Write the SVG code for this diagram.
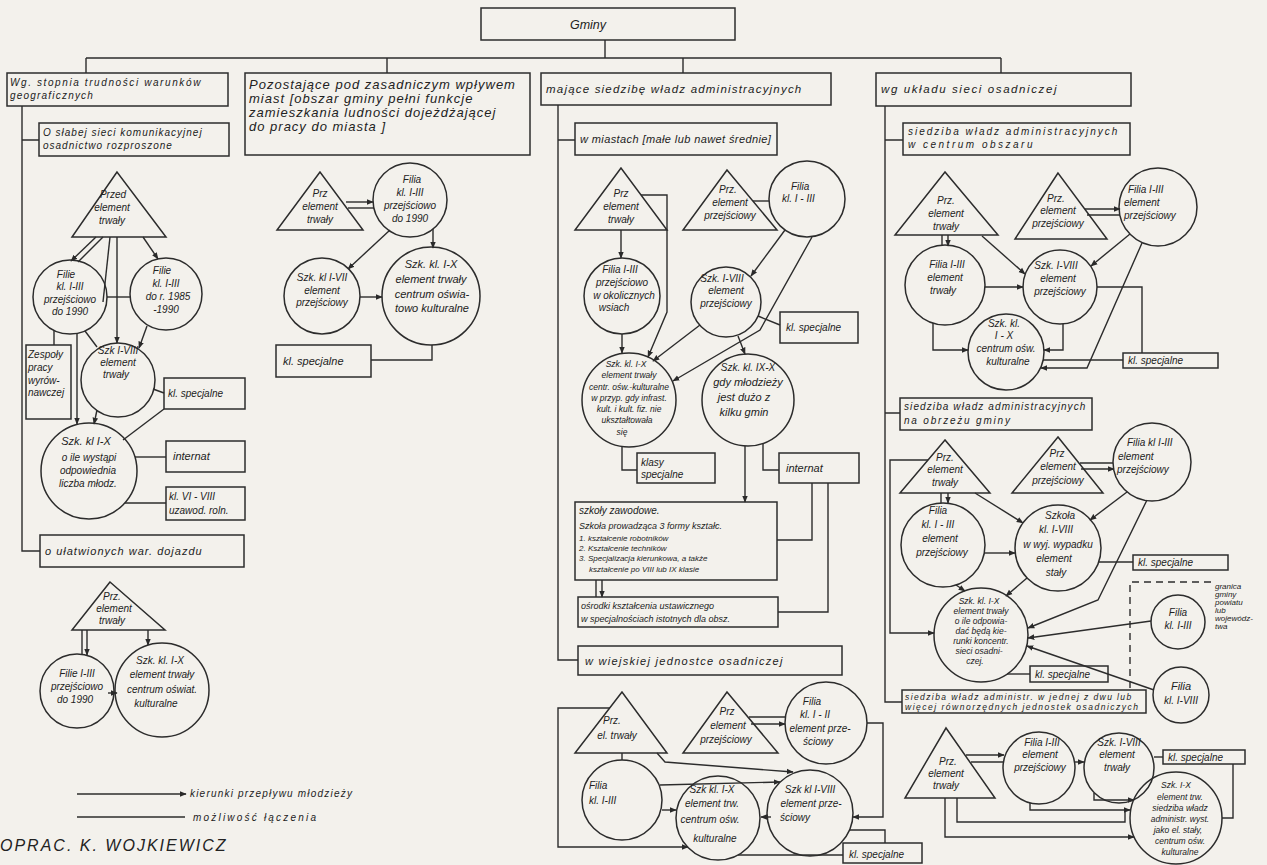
<svg xmlns="http://www.w3.org/2000/svg" width="1267" height="865" viewBox="0 0 1267 865">
<defs>
<marker id="ah" viewBox="0 0 10 10" refX="9" refY="5" markerWidth="7" markerHeight="7" markerUnits="userSpaceOnUse" orient="auto"><path d="M0,1 L10,5 L0,9 z" fill="#2a2a2a"/></marker>
<style>
.nd{fill:none;stroke:#2c2c2c;stroke-width:1.5}
.ln{fill:none;stroke:#2c2c2c;stroke-width:1.4}
.ar{marker-end:url(#ah)}
.dash{stroke-dasharray:7 5}
text{font-family:"Liberation Sans",Arial,sans-serif;font-style:italic;fill:#222;font-size:10px}
.m{text-anchor:middle}
.s{font-size:8.5px}
.l{font-size:11px}
.xl{font-size:12.5px}
</style>
</defs>
<rect x="0" y="0" width="1267" height="865" fill="#f3f1ec"/>

<g id="connectors">
<path class="ln" d="M605,40 V58 M86,58 H1001 M86,58 V73 M387,58 V73 M683,58 V73 M1001,58 V73"/>
<path class="ln" d="M22,106 V551 H40 M22,140 H39"/>
<path class="ln ar" d="M96,237 L71,261"/>
<path class="ln" d="M103,237 L78,262"/>
<path class="ln ar" d="M143,237 L158,259"/>
<path class="ln ar" d="M117,237 V343"/>
<path class="ln" d="M110,237 L103,302"/>
<path class="ln ar" d="M97,410 L94,424"/>
<path class="ln" d="M85,331 L97,347"/>
<path class="ln ar" d="M77,334 V424"/>
<path class="ln" d="M54,330 V345"/>
<path class="ln" d="M107,297 H131"/>
<path class="ln ar" d="M147,326 L139,348"/>
<path class="ln" d="M153,389 L164,393"/>
<path class="ln" d="M164,409 L123,440"/>
<path class="ln" d="M135,457 H166"/>
<path class="ln" d="M125,503 H166"/>
<path class="ln" d="M82,630 V655"/>
<path class="ln ar" d="M87,630 V655"/>
<path class="ln ar" d="M148,630 V645"/>
<path class="ln ar" d="M108,693 H117"/>
<path class="ln ar" d="M77,794 H186"/>
<path class="ln" d="M77,817 H185"/>
<path class="ln ar" d="M346,202 H373"/>
<path class="ln" d="M348,208 H374"/>
<path class="ln ar" d="M390,230 L348,269"/>
<path class="ln ar" d="M433,229 V248"/>
<path class="ln ar" d="M360,297 H382"/>
<path class="ln" d="M432,345 V360 H371"/>
<path class="ln" d="M558,105 V660 H578 M558,140 H575"/>
<path class="ln ar" d="M621,230 V258"/>
<path class="ln ar" d="M641,195 H667 V312 L648,357"/>
<path class="ln ar" d="M622,334 V353"/>
<path class="ln ar" d="M700,325 L653,361"/>
<path class="ln ar" d="M812,237 L760,330 L673,381"/>
<path class="ln ar" d="M785,230 L751,276"/>
<path class="ln" d="M753,201 H769"/>
<path class="ln" d="M758,316 L780,325"/>
<path class="ln ar" d="M738,336 L745,354"/>
<path class="ln" d="M622,447 V470 H637"/>
<path class="ln" d="M763,443 V470 H779"/>
<path class="ln ar" d="M745,446 V502"/>
<path class="ln" d="M812,483 V540 H777 M828,483 V612 H778"/>
<path class="ln" d="M596,580 V597"/>
<path class="ln ar" d="M602,580 V597"/>
<path class="ln" d="M622,753 V760"/>
<path class="ln ar" d="M610,708 H558 V847 H688"/>
<path class="ln" d="M749,717 H786"/>
<path class="ln ar" d="M751,724 H785"/>
<path class="ln ar" d="M867,723 H883 V817 H853"/>
<path class="ln ar" d="M771,817 H761"/>
<path class="ln ar" d="M662,810 H676"/>
<path class="ln ar" d="M657,753 L665,762 L793,772"/>
<path class="ln ar" d="M660,785 L780,782"/>
<path class="ln" d="M849,830 H885 V843"/>
<path class="ln" d="M738,855 H843"/>
<path class="ln" d="M885,106 V702 H902 M885,140 H903 M885,413 H900"/>
<path class="ln" d="M942,235 V245"/>
<path class="ln ar" d="M948,235 V246"/>
<path class="ln ar" d="M982,236 L1025,274"/>
<path class="ln ar" d="M1085,209 H1120"/>
<path class="ln" d="M1087,215 H1120"/>
<path class="ln ar" d="M1130,234 L1091,266"/>
<path class="ln ar" d="M985,287 H1023"/>
<path class="ln ar" d="M1142,243 L1087,368 H1041"/>
<path class="ln" d="M1097,287 H1142 V353"/>
<path class="ln ar" d="M1063,324 V350 H1044"/>
<path class="ln ar" d="M933,323 V350 H968"/>
<path class="ln" d="M1043,360 H1123"/>
<path class="ln ar" d="M928,460 H890 V633 H934"/>
<path class="ln" d="M941,493 V503"/>
<path class="ln ar" d="M948,493 V503"/>
<path class="ln ar" d="M975,493 L1023,523"/>
<path class="ln" d="M1080,463 H1113"/>
<path class="ln ar" d="M1081,469 H1114"/>
<path class="ln ar" d="M1127,492 L1090,520"/>
<path class="ln ar" d="M984,553 H1015"/>
<path class="ln" d="M1099,562 H1133"/>
<path class="ln ar" d="M1147,500 L1098,600 L1028,628"/>
<path class="ln ar" d="M1151,621 L1028,638"/>
<path class="ln ar" d="M1154,690 L1027,646"/>
<path class="ln ar" d="M956,585 L965,591"/>
<path class="ln ar" d="M1027,578 L1006,596"/>
<path class="ln" d="M1007,674 H1030"/>
<path class="ln dash" d="M1130,688 V582 H1213"/>
<path class="ln ar" d="M966,755 H1004"/>
<path class="ln" d="M971,762 H1004"/>
<path class="ln ar" d="M1075,762 H1084"/>
<path class="ln" d="M1154,757 H1163"/>
<path class="ln ar" d="M1030,803 V810 H1130"/>
<path class="ln ar" d="M1094,793 V800 H1134"/>
<path class="ln" d="M957,798 V822 H1125 V810"/>
<path class="ln ar" d="M945,798 V837 H1134"/>
<path class="ln" d="M1233,764 V818 H1222"/>
</g>

<g id="gminy"><rect class="nd" x="481" y="8" width="254" height="32"/><text class="xl m" x="588" y="29">Gminy</text></g>

<g id="box1"><rect class="nd" x="7" y="73" width="221" height="33"/><text x="10" y="86" style="letter-spacing:1.6px">Wg. stopnia trudności warunków</text><text x="10" y="99" style="letter-spacing:1.2px">geograficznych</text></g>
<g id="box2"><rect class="nd" x="245" y="73" width="285" height="82"/><text style="font-size:13px;letter-spacing:1px" x="249" y="89">Pozostające pod zasadniczym wpływem</text><text style="font-size:13px;letter-spacing:1px" x="249" y="103">miast [obszar gminy pełni funkcje</text><text style="font-size:13px;letter-spacing:1px" x="249" y="117">zamieszkania ludności dojeżdżającej</text><text style="font-size:13px;letter-spacing:1px" x="249" y="131">do pracy do miasta ]</text></g>
<g id="box3"><rect class="nd" x="541" y="73" width="290" height="32"/><text style="font-size:11.5px;letter-spacing:1.2px" x="546" y="93">mające siedzibę władz administracyjnych</text></g>
<g id="box4"><rect class="nd" x="876" y="73" width="255" height="33"/><text style="font-size:11.5px;letter-spacing:1.6px" x="881" y="93">wg układu sieci osadniczej</text></g>

<g id="s1-slabej"><rect class="nd" x="39" y="123" width="190" height="33"/><text x="43" y="136" style="letter-spacing:1px">O słabej sieci komunikacyjnej</text><text x="43" y="149" style="letter-spacing:1px">osadnictwo rozproszone</text></g>
<g id="s1-ulatw"><rect class="nd" x="40" y="535" width="204" height="32"/><text class="l" x="45" y="555" style="letter-spacing:1px">o ułatwionych war. dojazdu</text></g>
<g id="s1-przed"><polygon class="nd" points="117,172 72,237 166,237"/><text class="m" x="113" y="198">Przed</text><text class="m" x="112" y="211">element</text><text class="m" x="112" y="224">trwały</text></g>
<g id="s1-filie1"><circle class="nd" cx="70" cy="297" r="37"/><text class="m" x="66" y="278">Filie</text><text class="m" x="70" y="290">kl. I-III</text><text class="m" x="70" y="303">przejściowo</text><text class="m" x="70" y="315">do 1990</text></g>
<g id="s1-filie2"><circle class="nd" cx="166" cy="294" r="36"/><text class="m" x="162" y="274">Filie</text><text class="m" x="166" y="287">kl. I-III</text><text class="m" x="168" y="300">do r. 1985</text><text class="m" x="166" y="313">-1990</text></g>
<g id="s1-szk8"><circle class="nd" cx="118" cy="380" r="37"/><text class="m" x="118" y="354">Szk I-VIII</text><text class="m" x="118" y="366">element</text><text class="m" x="116" y="378">trwały</text></g>
<g id="s1-zesp"><rect class="nd" x="26" y="345" width="45" height="74"/><text x="28" y="358">Zespoły</text><text x="28" y="371">pracy</text><text x="28" y="384">wyrów-</text><text x="28" y="396">nawczej</text></g>
<g id="s1-spec"><rect class="nd" x="164" y="378" width="81" height="31"/><text x="168" y="397">kl. specjalne</text></g>
<g id="s1-szk10"><circle class="nd" cx="89" cy="471" r="48"/><text class="m l" x="86" y="445">Szk. kl I-X</text><text class="m" x="89" y="461">o ile wystąpi</text><text class="m" x="88" y="474">odpowiednia</text><text class="m" x="88" y="487">liczba młodz.</text></g>
<g id="s1-intern"><rect class="nd" x="166" y="441" width="79" height="31"/><text class="l" x="173" y="460">internat</text></g>
<g id="s1-kl6"><rect class="nd" x="166" y="487" width="79" height="33"/><text x="169" y="500">kl. VI - VIII</text><text x="169" y="514">uzawod. roln.</text></g>

<g id="s1-prz2"><polygon class="nd" points="110,582 72,630 165,630"/><text class="m" x="112" y="600">Prz.</text><text class="m" x="114" y="612">element</text><text class="m" x="112" y="624">trwały</text></g>
<g id="s1-filie3"><circle class="nd" cx="77" cy="691" r="37"/><text class="m" x="77" y="677">Filie I-III</text><text class="m" x="77" y="690">przejściowo</text><text class="m" x="75" y="703">do 1990</text></g>
<g id="s1-szk10b"><circle class="nd" cx="162" cy="690" r="47"/><text class="m" x="160" y="664">Szk. kl. I-X</text><text class="m" x="162" y="678">element trwały</text><text class="m" x="162" y="693">centrum oświat.</text><text class="m" x="156" y="707">kulturalne</text></g>

<g id="legend"><text x="190" y="797" style="letter-spacing:1.2px">kierunki przepływu młodzieży</text><text x="193" y="821" style="letter-spacing:2.2px">możliwość łączenia</text><text x="0" y="851" style="font-size:16px;letter-spacing:2px">OPRAC. K. WOJKIEWICZ</text></g>

<g id="s2-prz"><polygon class="nd" points="320,172 277,230 363,230"/><text class="m" x="320" y="197">Prz</text><text class="m" x="320" y="210">element</text><text class="m" x="320" y="223">trwały</text></g>
<g id="s2-filia"><circle class="nd" cx="410" cy="200" r="37"/><text class="m" x="412" y="183">Filia</text><text class="m" x="410" y="196">kl. I-III</text><text class="m" x="410" y="209">przejściowo</text><text class="m" x="410" y="222">do 1990</text></g>
<g id="s2-szk7"><circle class="nd" cx="322" cy="296" r="38"/><text class="m" x="322" y="281">Szk. kl I-VII</text><text class="m" x="322" y="294">element</text><text class="m" x="322" y="306">przejściowy</text></g>
<g id="s2-szk10"><circle class="nd" cx="431" cy="296" r="49"/><text class="m l" x="431" y="268">Szk. kl. I-X</text><text class="m l" x="431" y="283">element trwały</text><text class="m l" x="432" y="298">centrum oświa-</text><text class="m l" x="432" y="312">towo kulturalne</text></g>
<g id="s2-spec"><rect class="nd" x="276" y="345" width="95" height="32"/><text class="l" x="283" y="365">kl. specjalne</text></g>

<g id="s3-miast"><rect class="nd" x="575" y="123" width="202" height="32"/><text class="l" x="580" y="143" style="letter-spacing:0.4px">w miastach [małe lub nawet średnie]</text></g>
<g id="s3-prz"><polygon class="nd" points="621,168 575,230 667,230"/><text class="m" x="621" y="197">Prz</text><text class="m" x="621" y="210">element</text><text class="m" x="621" y="223">trwały</text></g>
<g id="s3-filia"><circle class="nd" cx="622" cy="296" r="38"/><text class="m" x="620" y="273">Filia I-III</text><text class="m" x="622" y="286">przejściowo</text><text class="m" x="624" y="299">w okolicznych</text><text class="m" x="614" y="311">wsiach</text></g>
<g id="s3-szk10"><circle class="nd" cx="629" cy="400" r="47"/><text class="m s" x="626" y="367">Szk. kl. I-X</text><text class="m s" x="629" y="378">element trwały</text><text class="m s" x="629" y="390">centr. ośw.-kulturalne</text><text class="m s" x="629" y="401">w przyp. gdy infrast.</text><text class="m s" x="629" y="412">kult. i kult. fiz. nie</text><text class="m s" x="627" y="423">ukształtowała</text><text class="m s" x="622" y="435">się</text></g>
<g id="s3-klasy"><rect class="nd" x="637" y="453" width="78" height="30"/><text x="641" y="466">klasy</text><text x="641" y="478">specjalne</text></g>
<g id="s3-prz2"><polygon class="nd" points="727,170 683,230 777,230"/><text class="m" x="728" y="193">Prz.</text><text class="m" x="730" y="206">element</text><text class="m" x="730" y="219">przejściowy</text></g>
<g id="s3-filia2"><circle class="nd" cx="807" cy="199" r="38"/><text x="791" y="190">Filia</text><text x="782" y="202">kl. I - III</text></g>
<g id="s3-szk8"><circle class="nd" cx="726" cy="302" r="35"/><text class="m" x="722" y="282">Szk. I-VIII</text><text class="m" x="726" y="294">element</text><text class="m" x="726" y="307">przejściowy</text></g>
<g id="s3-spec"><rect class="nd" x="780" y="312" width="78" height="31"/><text x="786" y="331">kl. specjalne</text></g>
<g id="s3-szk9"><circle class="nd" cx="748" cy="400" r="46"/><text class="m" x="748" y="371">Szk. kl. IX-X</text><text class="m l" x="748" y="386">gdy młodzieży</text><text class="m l" x="744" y="401">jest dużo z</text><text class="m l" x="744" y="416">kilku gmin</text></g>
<g id="s3-intern"><rect class="nd" x="779" y="453" width="80" height="30"/><text class="l" x="786" y="472">internat</text></g>
<g id="s3-zawod"><rect class="nd" x="575" y="502" width="202" height="78"/><text x="579" y="514">szkoły zawodowe.</text><text style="font-size:9px" x="579" y="529">Szkoła prowadząca 3 formy kształc.</text><text style="font-size:8px" x="579" y="541">1. kształcenie robotników</text><text style="font-size:8px" x="579" y="551">2. Kształcenie techników</text><text style="font-size:8px" x="579" y="561">3. Specjalizacja kierunkowa, a także</text><text style="font-size:8px" x="589" y="572">kształcenie po VIII lub IX klasie</text></g>
<g id="s3-osrod"><rect class="nd" x="578" y="597" width="200" height="30"/><text style="font-size:9px" x="581" y="609">ośrodki kształcenia ustawicznego</text><text style="font-size:9px" x="581" y="622">w specjalnościach istotnych dla obsz.</text></g>
<g id="s3-wiejsk"><rect class="nd" x="578" y="646" width="264" height="29"/><text class="l" x="585" y="665" style="letter-spacing:1.3px">w wiejskiej jednostce osadniczej</text></g>
<g id="s3-w-prz"><polygon class="nd" points="622,692 575,753 667,753"/><text class="m" x="612" y="724">Prz.</text><text class="m" x="617" y="739">el. trwały</text></g>
<g id="s3-w-filia"><circle class="nd" cx="622" cy="800" r="40"/><text x="589" y="789">Filia</text><text x="589" y="804">kl. I-III</text></g>
<g id="s3-w-prz2"><polygon class="nd" points="727,692 683,753 778,753"/><text class="m" x="727" y="715">Prz</text><text class="m" x="728" y="729">element</text><text class="m" x="726" y="743">przejściowy</text></g>
<g id="s3-w-filia2"><circle class="nd" cx="826" cy="723" r="41"/><text class="m" x="812" y="705">Filia</text><text class="m" x="815" y="718">kl. I - II</text><text class="m" x="820" y="732">element prze-</text><text class="m" x="818" y="745">ściowy</text></g>
<g id="s3-w-szk8"><circle class="nd" cx="810" cy="813" r="43"/><text class="m" x="810" y="793">Szk kl I-VIII</text><text class="m" x="811" y="807">element prze-</text><text class="m" x="795" y="821">ściowy</text></g>
<g id="s3-w-szk10"><circle class="nd" cx="718" cy="818" r="42"/><text class="m" x="712" y="793">Szk kl. I-X</text><text class="m" x="712" y="807">element trw.</text><text class="m" x="710" y="823">centrum ośw.</text><text class="m" x="715" y="842">kulturalne</text></g>
<g id="s3-w-spec"><rect class="nd" x="843" y="843" width="79" height="20"/><text x="849" y="858">kl. specjalne</text></g>

<g id="s4-centr"><rect class="nd" x="903" y="123" width="227" height="32"/><text x="908" y="135" style="letter-spacing:2px">siedziba władz administracyjnych</text><text x="908" y="148" style="letter-spacing:2.5px">w centrum obszaru</text></g>
<g id="s4-prz1"><polygon class="nd" points="945,172 895,235 998,235"/><text class="m" x="946" y="204">Prz.</text><text class="m" x="946" y="217">element</text><text class="m" x="946" y="230">trwały</text></g>
<g id="s4-prz2"><polygon class="nd" points="1058,173 1015,239 1107,239"/><text class="m" x="1056" y="202">Prz.</text><text class="m" x="1058" y="214">element</text><text class="m" x="1058" y="227">przejściowy</text></g>
<g id="s4-filia1"><circle class="nd" cx="1158" cy="207" r="39"/><text x="1128" y="193">Filia I-III</text><text x="1124" y="206">element</text><text x="1124" y="219">przejściowy</text></g>
<g id="s4-filia2"><circle class="nd" cx="945" cy="285" r="40"/><text class="m" x="947" y="268">Filia I-III</text><text class="m" x="945" y="281">element</text><text class="m" x="943" y="294">trwały</text></g>
<g id="s4-szk8"><circle class="nd" cx="1060" cy="287" r="37"/><text class="m" x="1056" y="269">Szk. I-VIII</text><text class="m" x="1058" y="282">element</text><text class="m" x="1060" y="295">przejściowy</text></g>
<g id="s4-szk10"><circle class="nd" cx="1006" cy="352" r="38"/><text class="m" x="1004" y="327">Szk. kl.</text><text class="m" x="1004" y="339">I - X</text><text class="m" x="1006" y="352">centrum ośw.</text><text class="m" x="1008" y="365">kulturalne</text></g>
<g id="s4-spec1"><rect class="nd" x="1123" y="353" width="95" height="15"/><text x="1128" y="364">kl. specjalne</text></g>
<g id="s4-obrz"><rect class="nd" x="900" y="398" width="192" height="32"/><text x="904" y="410" style="letter-spacing:1.1px">siedziba władz administracyjnych</text><text x="904" y="424" style="letter-spacing:1.8px">na obrzeżu gminy</text></g>
<g id="s4-prz3"><polygon class="nd" points="945,440 900,493 990,493"/><text class="m" x="945" y="461">Prz.</text><text class="m" x="945" y="473">element</text><text class="m" x="945" y="486">trwały</text></g>
<g id="s4-prz4"><polygon class="nd" points="1058,437 1012,493 1103,493"/><text class="m" x="1057" y="457">Prz</text><text class="m" x="1058" y="470">element</text><text class="m" x="1058" y="484">przejściowy</text></g>
<g id="s4-filia3"><circle class="nd" cx="1152" cy="462" r="39"/><text x="1127" y="446">Filia kl I-III</text><text x="1118" y="460">element</text><text x="1117" y="473">przejściowy</text></g>
<g id="s4-filia4"><circle class="nd" cx="943" cy="545" r="42"/><text class="m" x="938" y="514">Filia</text><text class="m" x="938" y="528">kl. I - III</text><text class="m" x="940" y="542">element</text><text class="m" x="942" y="556">przejściowy</text></g>
<g id="s4-szkola"><circle class="nd" cx="1058" cy="548" r="43"/><text class="m" x="1060" y="519">Szkoła</text><text class="m" x="1056" y="533">kl. I-VIII</text><text class="m" x="1058" y="548">w wyj. wypadku</text><text class="m" x="1054" y="562">element</text><text class="m" x="1056" y="576">stały</text></g>
<g id="s4-spec2"><rect class="nd" x="1133" y="555" width="95" height="15"/><text x="1138" y="566">kl. specjalne</text></g>
<g id="s4-szk10b"><circle class="nd" cx="981" cy="635" r="47"/><text class="m s" x="979" y="604">Szk. kl. I-X</text><text class="m s" x="981" y="614">element trwały</text><text class="m s" x="981" y="624">o ile odpowia-</text><text class="m s" x="981" y="634">dać będą kie-</text><text class="m s" x="981" y="644">runki koncentr.</text><text class="m s" x="979" y="654">sieci osadni-</text><text class="m s" x="975" y="664">czej.</text></g>
<g id="s4-spec3"><rect class="nd" x="1030" y="666" width="78" height="16"/><text x="1035" y="678">kl. specjalne</text></g>
<g id="s4-granica"><text style="font-size:8px" x="1215" y="589">granica</text><text style="font-size:8px" x="1215" y="597">gminy</text><text style="font-size:8px" x="1215" y="605">powiatu</text><text style="font-size:8px" x="1215" y="613">lub</text><text style="font-size:8px" x="1215" y="621">wojewódz-</text><text style="font-size:8px" x="1215" y="629">twa</text></g>
<g id="s4-filia5"><circle class="nd" cx="1178" cy="622" r="27"/><text class="m" x="1178" y="616">Filia</text><text class="m" x="1178" y="629">kl. I-III</text></g>
<g id="s4-filia6"><circle class="nd" cx="1181" cy="695" r="28"/><text class="m l" x="1181" y="690">Filia</text><text class="m" x="1181" y="704">kl. I-VIII</text></g>
<g id="s4-jednej"><rect class="nd" x="902" y="690" width="244" height="23"/><text class="s" x="905" y="700" style="letter-spacing:1.4px">siedziba władz administr. w jednej z dwu lub</text><text class="s" x="905" y="710" style="letter-spacing:1.5px">więcej równorzędnych jednostek osadniczych</text></g>
<g id="s4-prz5"><polygon class="nd" points="946,728 905,798 995,798"/><text class="m" x="948" y="765">Prz.</text><text class="m" x="946" y="777">element</text><text class="m" x="946" y="789">trwały</text></g>
<g id="s4-filia7"><circle class="nd" cx="1039" cy="768" r="36"/><text class="m" x="1042" y="746">Filia I-III</text><text class="m" x="1040" y="758">element</text><text class="m" x="1040" y="771">przejściowy</text></g>
<g id="s4-szk8b"><circle class="nd" cx="1119" cy="768" r="35"/><text class="m" x="1119" y="746">Szk. I-VIII</text><text class="m" x="1117" y="758">element</text><text class="m" x="1117" y="771">trwały</text></g>
<g id="s4-spec4"><rect class="nd" x="1163" y="750" width="82" height="14"/><text x="1168" y="761">kl. specjalne</text></g>
<g id="s4-szk10c"><circle class="nd" cx="1176" cy="818" r="46"/><text class="m s" x="1176" y="788">Szk. I-X</text><text class="m s" x="1180" y="800">element trw.</text><text class="m s" x="1180" y="811">siedziba władz</text><text class="m s" x="1180" y="822">administr. wyst.</text><text class="m s" x="1178" y="833">jako el. stały,</text><text class="m s" x="1180" y="844">centrum ośw.</text><text class="m s" x="1180" y="855">kulturalne</text></g>
</svg>
